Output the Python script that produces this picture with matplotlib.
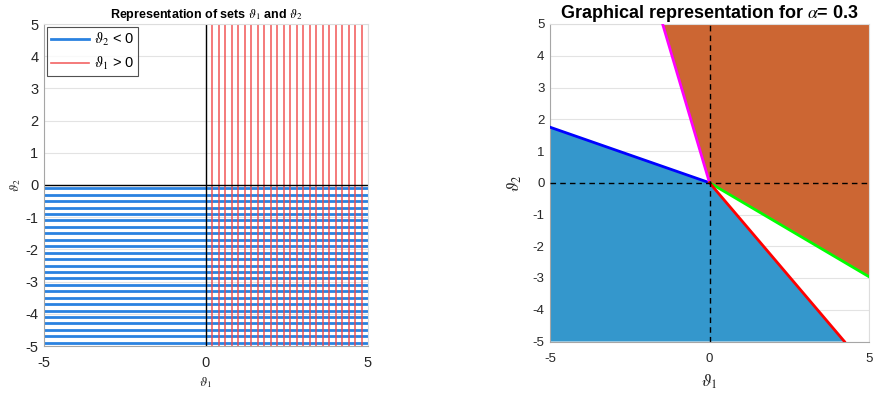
import numpy as np
import matplotlib
matplotlib.use("Agg")
import matplotlib.pyplot as plt

plt.rcParams["font.family"] = ["Liberation Sans", "DejaVu Sans"]
plt.rcParams["mathtext.fontset"] = "stix"

# left panel: sample lines of the two sets
theta2_neg = np.arange(-0.1, -5.0, -0.2)      # horizontal blue lines, theta_2 < 0
theta1_pos = np.arange(0.2, 4.9, 0.2)         # vertical red lines, theta_1 > 0

# right panel: boundary rays through the origin (alpha = 0.3)
alpha = 0.3
blue_ray = ([-5, 0], [1.75, 0])
magenta_ray = ([-1.47, 0], [5, 0])
green_ray = ([0, 5], [0, -2.96])
red_ray = ([0, 4.23], [0, -5])
blue_region_x = [-5, -5, 0, 4.23]
blue_region_y = [-5, 1.75, 0, -5]
orange_region_x = [-1.47, 0, 5, 5]
orange_region_y = [5, 0, -2.96, 5]

ticks_x = [-5, 0, 5]
ticks_y = list(range(-5, 6))

txt = "#262626"
grid_c = "#e3e3e3"

fig = plt.figure(figsize=(8.73, 3.93), dpi=100)


def style_axes(ax, size, pad):
    ax.set_xlim(-5, 5)
    ax.set_ylim(-5, 5)
    ax.set_xticks(ticks_x)
    ax.set_yticks(ticks_y)
    ax.set_xticklabels([str(t) for t in ticks_x])
    ax.set_yticklabels([str(t) for t in ticks_y])
    ax.tick_params(labelsize=size, colors=txt, length=0)
    ax.tick_params(axis="x", pad=pad)
    ax.tick_params(axis="y", pad=4)
    ax.grid(True, color=grid_c, lw=0.8)
    ax.set_axisbelow(True)
    for s in ax.spines.values():
        s.set_color("#a6a6a6")
        s.set_linewidth(0.8)
    ax.spines["top"].set_color("#dddddd")
    ax.spines["right"].set_color("#dddddd")


# ---- left panel ----
ax1 = fig.add_axes([44 / 873, 1 - 346 / 393, 324 / 873, 322 / 393])
style_axes(ax1, 10.5, 7)
for i, y in enumerate(theta2_neg):
    ax1.axhline(y, color="#2a82e0", lw=2.0, label=r"$\vartheta_2$ < 0" if i == 0 else None)
for i, x in enumerate(theta1_pos):
    ax1.axvline(x, color="#f04848", lw=1.2, alpha=0.85, label=r"$\vartheta_1$ > 0" if i == 0 else None)
ax1.axvline(0, color="k", lw=1.0)
ax1.axhline(0, color="k", lw=1.0)
ax1.set_title(r"Representation of sets $\vartheta_1$ and $\vartheta_2$",
              fontsize=9, fontweight="bold", pad=4)
ax1.set_xlabel(r"$\vartheta_1$", fontsize=9.5, color=txt, labelpad=4)
ax1.set_ylabel(r"$\vartheta_2$", fontsize=9.5, color=txt, labelpad=2)
leg = ax1.legend(loc="upper left", fontsize=10.5, frameon=True, fancybox=False,
                 borderaxespad=0.2, handlelength=2.6, handletextpad=0.3,
                 borderpad=0.3, labelspacing=0.45)
leg.get_frame().set_edgecolor("#262626")
leg.get_frame().set_linewidth(0.8)

# ---- right panel ----
ax2 = fig.add_axes([550 / 873, 1 - 341.5 / 393, 319 / 873, 317.5 / 393])
style_axes(ax2, 9.5, 8)
ax2.fill(blue_region_x, blue_region_y, color="#3497cc", lw=0, zorder=2)
ax2.fill(orange_region_x, orange_region_y, color="#cc6633", lw=0, zorder=2)
ax2.plot(*blue_ray, color="#0000ff", lw=2, zorder=3)
ax2.plot(*magenta_ray, color="#ff00ff", lw=2, zorder=3)
ax2.plot(*green_ray, color="#00ff00", lw=2, zorder=3)
ax2.plot(*red_ray, color="#ff0000", lw=2, zorder=3)
ax2.axvline(0, color="k", lw=1.0, ls=(0, (4, 3)), zorder=4)
ax2.axhline(0, color="k", lw=1.0, ls=(0, (4, 3)), zorder=4)
ax2.set_title(r"Graphical representation for $\alpha$= " + str(alpha),
              fontsize=13, fontweight="bold", pad=4)
ax2.set_xlabel(r"$\vartheta_1$", fontsize=12.5, color=txt, labelpad=6)
ax2.set_ylabel(r"$\vartheta_2$", fontsize=12.5, color=txt, labelpad=6)

fig.savefig("out.png", dpi=100)
